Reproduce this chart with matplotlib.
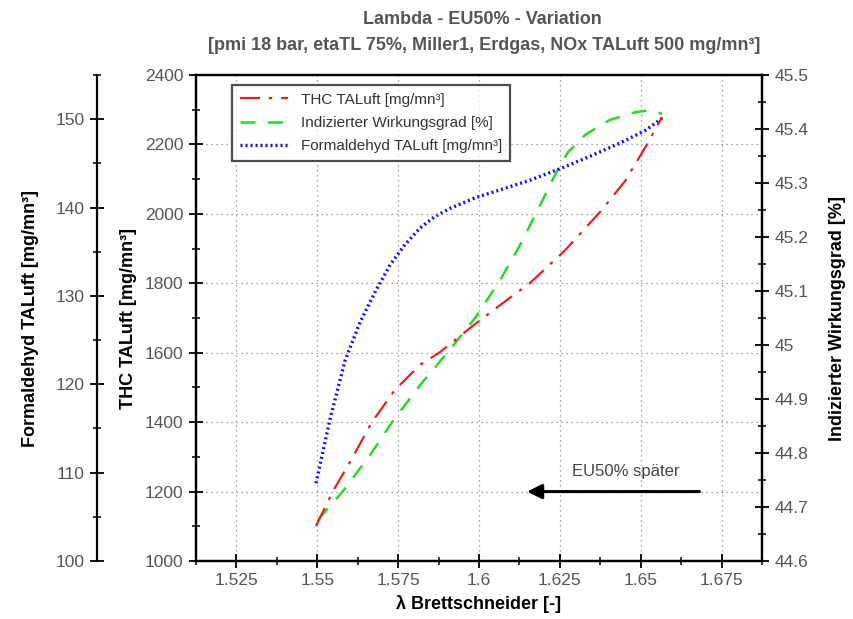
import matplotlib
matplotlib.use("Agg")
import matplotlib.pyplot as plt
from matplotlib.ticker import MultipleLocator, FixedLocator

plt.rcParams['font.family'] = ['Liberation Sans', 'DejaVu Sans']

# data
lam_thc = [1.5496, 1.5549, 1.5601, 1.5669, 1.5740, 1.5818, 1.5880, 1.5972,
           1.6065, 1.6158, 1.6266, 1.6374, 1.6452, 1.6513, 1.6566]
thc = [1101, 1202, 1285, 1400, 1493, 1565, 1602, 1671,
       1737, 1801, 1895, 2005, 2095, 2190, 2279]

lam_eta = [1.5502, 1.5580, 1.5663, 1.5731, 1.5818, 1.5904, 1.5988, 1.6065, 1.6127,
           1.6189, 1.6235, 1.6275, 1.6328, 1.6405, 1.6483, 1.6529, 1.6566]
eta = [44.676, 44.730, 44.796, 44.857, 44.926, 44.987, 45.050, 45.120, 45.185,
       45.259, 45.315, 45.357, 45.389, 45.417, 45.431, 45.435, 45.428]

lam_form = [1.5496, 1.5539, 1.5586, 1.5632, 1.5678, 1.5725, 1.5771, 1.5818, 1.5864,
            1.5910, 1.5988, 1.6065, 1.6158, 1.6251, 1.6343, 1.6436, 1.6513, 1.6566]
form = [108.8, 116.0, 122.7, 127.0, 130.4, 133.5, 135.8, 137.7, 139.0,
        139.9, 141.1, 142.0, 143.1, 144.4, 145.8, 147.3, 148.7, 150.1]

xticks = [1.525, 1.55, 1.575, 1.6, 1.625, 1.65, 1.675]
xticklabels = ['1.525', '1.55', '1.575', '1.6', '1.625', '1.65', '1.675']
eta_ticks = [44.6, 44.7, 44.8, 44.9, 45.0, 45.1, 45.2, 45.3, 45.4, 45.5]
eta_labels = ['44.6', '44.7', '44.8', '44.9', '45', '45.1', '45.2', '45.3', '45.4', '45.5']

gray = '#555555'

fig = plt.figure(figsize=(8.54, 6.19), dpi=100)
ax = fig.add_axes([0.2295, 0.0937, 0.6628, 0.7851])
ax2 = ax.twinx()
ax3 = ax.twinx()

l1, = ax.plot(lam_thc, thc, color='#e82020', lw=1.6, linestyle=(0, (9, 4, 1.5, 4)))
l2, = ax2.plot(lam_eta, eta, color='#22dd22', lw=1.8, linestyle=(0, (6, 5)))
l3, = ax3.plot(lam_form, form, color='#1010ee', lw=2.4, linestyle=(0, (0.6, 0.9)))

ax.set_xlim(1.5125, 1.6875)
ax.set_ylim(1000, 2400)
ax2.set_ylim(44.6, 45.5)
ax3.set_ylim(100, 155)

ax.xaxis.set_major_locator(FixedLocator(xticks))
ax.set_xticklabels(xticklabels)
ax.xaxis.set_minor_locator(MultipleLocator(0.0125))
ax.yaxis.set_major_locator(MultipleLocator(200))
ax.yaxis.set_minor_locator(MultipleLocator(100))
ax2.yaxis.set_major_locator(FixedLocator(eta_ticks))
ax2.set_yticklabels(eta_labels)
ax2.yaxis.set_minor_locator(MultipleLocator(0.05))
ax3.yaxis.set_major_locator(MultipleLocator(10))
ax3.yaxis.set_minor_locator(MultipleLocator(5))

ax.grid(True, which='major', color='#888888', linestyle=(0, (1, 3)), lw=0.9)

# formaldehyd axis on an offset left spine
ax3.spines['left'].set_position(('axes', -0.175))
ax3.spines['left'].set_visible(True)
ax3.yaxis.set_ticks_position('left')
ax3.yaxis.set_label_position('left')
for s in ['right', 'top', 'bottom']:
    ax3.spines[s].set_visible(False)

for a in (ax, ax2, ax3):
    for s in a.spines.values():
        s.set_linewidth(1.6)
    a.tick_params(which='major', direction='inout', length=10, width=1.3,
                  labelsize=12.5, labelcolor=gray, pad=4)
    a.tick_params(which='minor', direction='inout', length=6, width=1.1)

ax.set_xlabel('λ Brettschneider [-]', fontsize=13, fontweight='bold', labelpad=5)
ax.set_ylabel('THC TALuft [mg/mn³]', fontsize=13, fontweight='bold', labelpad=6)
ax2.set_ylabel('Indizierter Wirkungsgrad [%]', fontsize=13, fontweight='bold', labelpad=15)
ax3.set_ylabel('Formaldehyd TALuft [mg/mn³]', fontsize=13, fontweight='bold', labelpad=12)

fig.text(0.565, 0.969, 'Lambda - EU50% - Variation', ha='center', va='center',
         fontsize=13, fontweight='bold', color=gray)
fig.text(0.567, 0.927, '[pmi 18 bar, etaTL 75%, Miller1, Erdgas, NOx TALuft 500 mg/mn³]',
         ha='center', va='center', fontsize=13, fontweight='bold', color=gray)

leg = ax.legend([l1, l2, l3],
                ['THC TALuft [mg/mn³]', 'Indizierter Wirkungsgrad [%]', 'Formaldehyd TALuft [mg/mn³]'],
                loc='upper left', bbox_to_anchor=(0.05, 0.995), fontsize=11,
                handlelength=3.2, frameon=True, fancybox=False, borderpad=0.5,
                labelspacing=0.6)
leg.get_frame().set_edgecolor('#222222')
leg.get_frame().set_linewidth(1.6)
for t in leg.get_texts():
    t.set_color('#333333')

ax.annotate('', xy=(1.614, 1200), xytext=(1.669, 1200),
            arrowprops=dict(arrowstyle='-|>', color='black', lw=2.2, mutation_scale=22))
ax.text(1.6455, 1258, 'EU50% später', ha='center', va='center', fontsize=12, color='#444444')

ax.set_zorder(ax3.get_zorder() + 1)
ax.patch.set_visible(False)

fig.savefig('out.png', dpi=100)
